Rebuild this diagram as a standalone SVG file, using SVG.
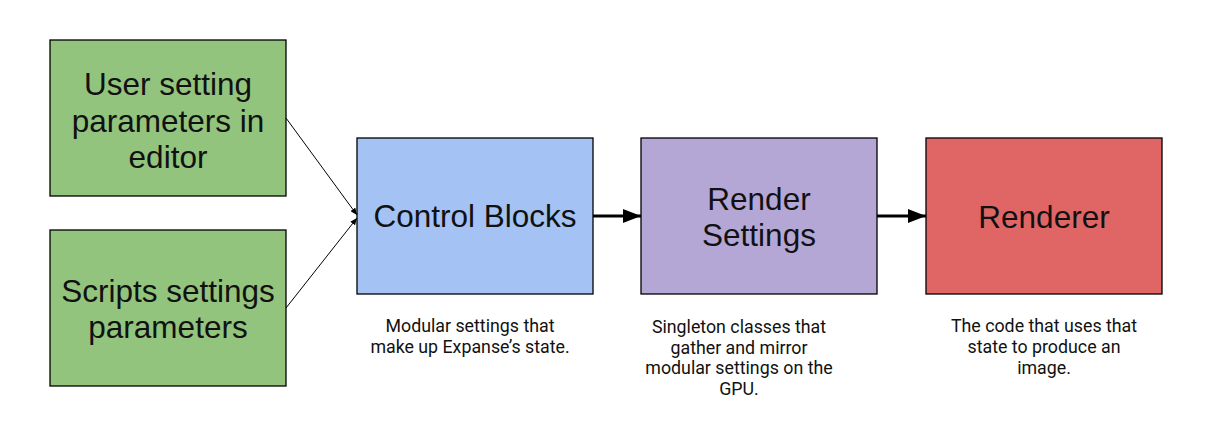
<svg xmlns="http://www.w3.org/2000/svg" width="1212" height="433" viewBox="0 0 1212 433">
<style>
.box{stroke:#000;stroke-width:1.3}
.lbl{font-family:"Liberation Sans",Arial,sans-serif;font-size:31.5px;fill:#111;text-anchor:middle}
.cap{font-family:Roboto,"Liberation Sans",sans-serif;font-size:17.8px;fill:#111;text-anchor:middle}
.thin{stroke:#000;stroke-width:1;fill:none}
.thick{stroke:#000;stroke-width:3;fill:none}
</style>
<defs>
<marker id="ah" markerUnits="userSpaceOnUse" markerWidth="18" markerHeight="14" refX="18" refY="7" orient="auto">
<path d="M0,0 L18,7 L0,14 Z" fill="#000"/>
</marker>
<marker id="ahs" markerUnits="userSpaceOnUse" markerWidth="7" markerHeight="6" refX="7" refY="3" orient="auto">
<path d="M0,0 L7,3 L0,6 Z" fill="#000"/>
</marker>
</defs>
<rect width="1212" height="433" fill="#fff"/>
<g id="user">
<rect class="box" x="50" y="40" width="236" height="156" fill="#93c47d"/>
<text class="lbl" x="168" y="95">User setting</text>
<text class="lbl" x="168" y="131.5">parameters in</text>
<text class="lbl" x="168" y="168">editor</text>
</g>
<g id="scripts">
<rect class="box" x="50" y="230" width="236" height="156" fill="#93c47d"/>
<text class="lbl" x="168" y="301.5">Scripts settings</text>
<text class="lbl" x="168" y="338">parameters</text>
</g>
<g id="control">
<rect class="box" x="357" y="138" width="236" height="156" fill="#a4c2f4"/>
<text class="lbl" x="475" y="227">Control Blocks</text>
<text class="cap" x="470" y="332">Modular settings that</text>
<text class="cap" x="470" y="353">make up Expanse’s state.</text>
</g>
<g id="render">
<rect class="box" x="641" y="138" width="236" height="156" fill="#b4a7d6"/>
<text class="lbl" x="759" y="210">Render</text>
<text class="lbl" x="759" y="245.5">Settings</text>
<text class="cap" x="739" y="333">Singleton classes that</text>
<text class="cap" x="739" y="353.5">gather and mirror</text>
<text class="cap" x="739" y="374">modular settings on the</text>
<text class="cap" x="739" y="394.5">GPU.</text>
</g>
<g id="renderer">
<rect class="box" x="926" y="138" width="236" height="156" fill="#e06666"/>
<text class="lbl" x="1044" y="228">Renderer</text>
<text class="cap" x="1044" y="332">The code that uses that</text>
<text class="cap" x="1044" y="353">state to produce an</text>
<text class="cap" x="1044" y="374">image.</text>
</g>
<g id="connectors">
<line class="thin" x1="286" y1="118" x2="357" y2="215" marker-end="url(#ahs)"/>
<line class="thin" x1="286" y1="308" x2="357" y2="218" marker-end="url(#ahs)"/>
<line class="thick" x1="593" y1="216" x2="641" y2="216" marker-end="url(#ah)"/>
<line class="thick" x1="877" y1="216" x2="926" y2="216" marker-end="url(#ah)"/>
</g>
</svg>
